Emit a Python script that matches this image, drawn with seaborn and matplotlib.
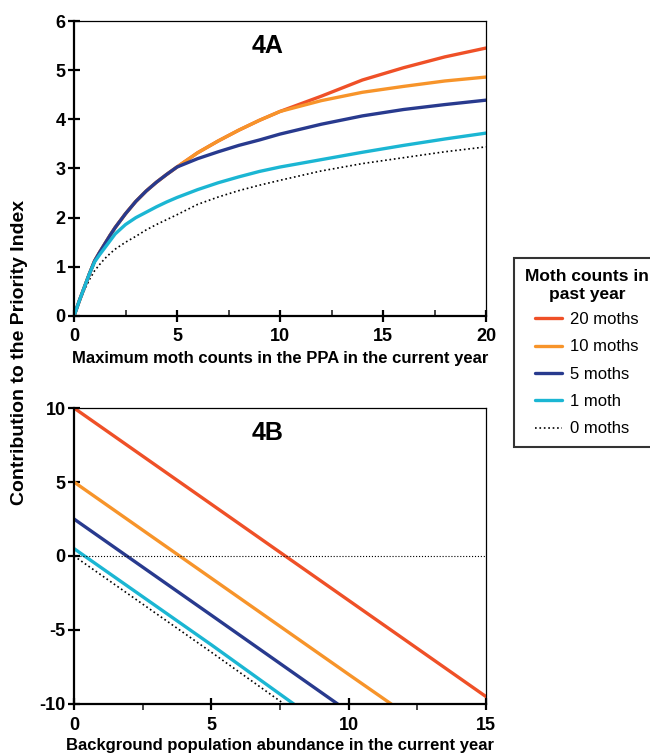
import matplotlib
matplotlib.use('Agg')
import matplotlib.pyplot as plt
import seaborn as sns
from matplotlib.ticker import MultipleLocator

# Panel 4A: contribution vs. maximum moth count in the PPA (current year)
top_x = [0, 0.25, 0.5, 0.75, 1, 1.25, 1.5, 1.75, 2, 2.5, 3, 3.5, 4, 4.5, 5,
         6, 7, 8, 9, 10, 12, 14, 16, 18, 20]
top_20 = [0, 0.30, 0.58, 0.86, 1.12, 1.30, 1.47, 1.64, 1.80, 2.08, 2.33, 2.54, 2.72, 2.88, 3.03,
          3.32, 3.56, 3.78, 3.98, 4.16, 4.47, 4.80, 5.05, 5.27, 5.45]
top_10 = [0, 0.30, 0.58, 0.86, 1.12, 1.30, 1.47, 1.64, 1.80, 2.08, 2.33, 2.54, 2.72, 2.88, 3.03,
          3.32, 3.56, 3.78, 3.98, 4.16, 4.38, 4.55, 4.67, 4.78, 4.86]
top_5 = [0, 0.30, 0.58, 0.86, 1.12, 1.30, 1.47, 1.64, 1.80, 2.08, 2.33, 2.54, 2.72, 2.88, 3.03,
         3.20, 3.34, 3.47, 3.58, 3.70, 3.90, 4.07, 4.20, 4.30, 4.39]
top_1 = [0, 0.30, 0.58, 0.86, 1.10, 1.25, 1.39, 1.53, 1.67, 1.86, 2.00, 2.11, 2.22, 2.32, 2.41,
         2.57, 2.71, 2.83, 2.94, 3.03, 3.18, 3.33, 3.47, 3.60, 3.72]
top_0 = [0, 0.28, 0.52, 0.74, 0.92, 1.05, 1.17, 1.27, 1.36, 1.50, 1.62, 1.75, 1.86, 1.96, 2.06,
         2.27, 2.42, 2.55, 2.66, 2.76, 2.95, 3.10, 3.22, 3.34, 3.44]

# Panel 4B: contribution vs. background population abundance
bot_x20 = [0, 5, 10, 15]
bot_20 = [10, 3.5, -3.0, -9.5]
bot_x10 = [0, 5, 10, 11.55]
bot_10 = [5, -1.5, -8.0, -10]
bot_x5 = [0, 5, 9.6]
bot_5 = [2.5, -4.0, -10]
bot_x1 = [0, 5, 8.0]
bot_1 = [0.5, -6.0, -10]
bot_x0 = [0, 5, 7.65]
bot_0 = [0, -6.5, -10]

labels = ['20 moths', '10 moths', '5 moths', '1 moth', '0 moths']
colors = ['#EF5027', '#F7942A', '#283A8E', '#1BB6D3', 'black']

sns.set_style('white')
plt.rcParams['font.family'] = ['Liberation Sans', 'DejaVu Sans']
plt.rcParams['text.color'] = 'black'
plt.rcParams['axes.labelcolor'] = 'black'
plt.rcParams['axes.unicode_minus'] = False

fig = plt.figure(figsize=(6.5, 7.55), dpi=100)
ax1 = fig.add_axes([74 / 650, 1 - 316 / 755, 412 / 650, 295 / 755])
ax2 = fig.add_axes([74 / 650, 1 - 704 / 755, 412 / 650, 296 / 755])

top_series = [top_20, top_10, top_5, top_1, top_0]
bot_series = [(bot_x20, bot_20), (bot_x10, bot_10), (bot_x5, bot_5),
              (bot_x1, bot_1), (bot_x0, bot_0)]

# draw dotted first, then red, orange, navy, cyan (cyan ends up on top)
order = [4, 0, 1, 2, 3]
handles = {}
for i in order:
    dotted = labels[i] == '0 moths'
    lw = 1.2 if dotted else 2.4
    ls = ':' if dotted else '-'
    sns.lineplot(x=top_x, y=top_series[i], ax=ax1, color=colors[i],
                 linewidth=lw, linestyle=ls)
    handles[i] = ax1.lines[-1]
    bx, by = bot_series[i]
    sns.lineplot(x=bx, y=by, ax=ax2, color=colors[i],
                 linewidth=lw, linestyle=ls)

ax2.axhline(0, color='black', linewidth=0.8, linestyle=':')

ax1.set_xlim(0, 20)
ax1.set_ylim(0, 6)
ax1.xaxis.set_major_locator(MultipleLocator(5))
ax1.xaxis.set_minor_locator(MultipleLocator(2.5))
ax1.yaxis.set_major_locator(MultipleLocator(1))

ax2.set_xlim(0, 15)
ax2.set_ylim(-10, 10)
ax2.xaxis.set_major_locator(MultipleLocator(5))
ax2.xaxis.set_minor_locator(MultipleLocator(2.5))
ax2.yaxis.set_major_locator(MultipleLocator(5))

for ax, minor_dir in [(ax1, 'in'), (ax2, 'out')]:
    for side in ['top', 'right']:
        ax.spines[side].set_linewidth(0.9)
        ax.spines[side].set_color('black')
    for side in ['left', 'bottom']:
        ax.spines[side].set_linewidth(1.6)
        ax.spines[side].set_color('black')
    ax.tick_params(which='major', direction='inout', length=8, width=1.6,
                   labelsize=13, colors='black', left=True, bottom=True)
    ax.tick_params(axis='x', which='major', pad=5)
    ax.tick_params(axis='y', which='major', pad=2)
    ax.tick_params(axis='x', which='minor', direction=minor_dir, length=4,
                   width=1.2, bottom=True)
    for lab in ax.get_xticklabels() + ax.get_yticklabels():
        lab.set_fontweight('bold')

ax1.set_xlabel('Maximum moth counts in the PPA in the current year',
               fontsize=12, fontweight='bold', labelpad=4)
ax2.set_xlabel('Background population abundance in the current year',
               fontsize=12, fontweight='bold', labelpad=3)
ax1.set_ylabel('')
ax2.set_ylabel('')

ax1.text(0.47, 0.915, '4A', transform=ax1.transAxes, ha='center', va='center',
         fontsize=18, fontweight='bold')
ax2.text(0.47, 0.915, '4B', transform=ax2.transAxes, ha='center', va='center',
         fontsize=18, fontweight='bold')

fig.text(20 / 650, 1 - 352 / 755, 'Contribution to the Priority Index',
         rotation=90, ha='center', va='center', fontsize=14, fontweight='bold')

leg = fig.legend([handles[i] for i in range(5)], labels,
                 title='Moth counts in\npast year', loc='upper left',
                 bbox_to_anchor=(514 / 650, 1 - 258 / 755), borderaxespad=0,
                 frameon=True, fancybox=False, edgecolor='black',
                 handlelength=1.6, handletextpad=0.5, labelspacing=0.74,
                 borderpad=0.65, prop={'size': 12, 'weight': 'normal'},
                 title_fontproperties={'size': 12.5, 'weight': 'bold'})
leg.get_frame().set_linewidth(1.5)
leg.get_title().set_multialignment('center')
leg.get_title().set_linespacing(1.3)
leg._legend_box.sep = 7

fig.savefig('out.png', dpi=100)
